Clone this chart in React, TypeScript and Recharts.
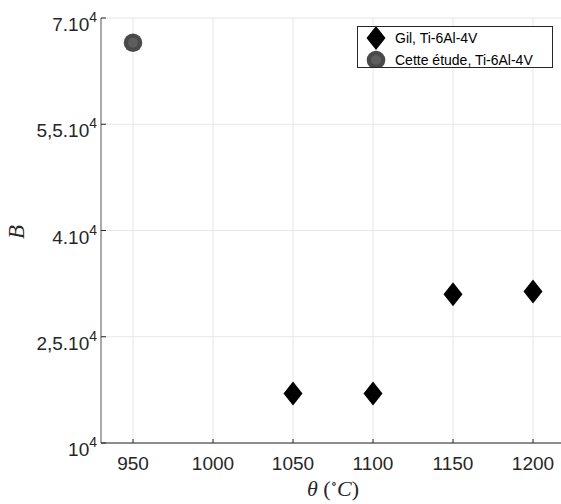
import React from "react";
import { ScatterChart, Scatter, XAxis, YAxis, CartesianGrid } from "recharts";

const xTicks = [950, 1000, 1050, 1100, 1150, 1200];
const yTicks = [10000, 25000, 40000, 55000, 70000];
const yTickLabels = ["10", "2,5.10", "4.10", "5,5.10", "7.10"];

const gilTheta = [1050, 1100, 1150, 1200];
const gilB = [17000, 17000, 31000, 31400];
const etudeTheta = [950];
const etudeB = [66500];

const gilData = gilTheta.map((x, i) => ({ x, y: gilB[i] }));
const etudeData = etudeTheta.map((x, i) => ({ x, y: etudeB[i] }));

const AXIS = "#262626";
const FONT = "'Liberation Sans', Arial, Helvetica, sans-serif";
const SERIF = "'Liberation Serif', 'DejaVu Serif', serif";

const Diamond = ({ cx, cy }: { cx?: number; cy?: number }) => {
  if (cx == null || cy == null) return null;
  return <path d={`M${cx},${cy - 12} L${cx + 9.5},${cy} L${cx},${cy + 12} L${cx - 9.5},${cy} Z`} fill="#000" />;
};

const Disc = ({ cx, cy }: { cx?: number; cy?: number }) => {
  if (cx == null || cy == null) return null;
  return (
    <g>
      <circle cx={cx} cy={cy} r={9.3} fill="#4a4a4a" />
      <circle cx={cx} cy={cy} r={5} fill="#5e5e5e" />
    </g>
  );
};

const XTick = (props: any) => {
  const { x, y, payload } = props;
  return (
    <g>
      <line x1={x} x2={x} y1={y} y2={y - 4} stroke={AXIS} />
      <text x={x} y={y + 27} textAnchor="middle" fontSize={19} fill={AXIS} fontFamily={FONT}>
        {payload.value}
      </text>
    </g>
  );
};

const TopTick = (props: any) => {
  const { x, y } = props;
  return <line x1={x} x2={x} y1={y} y2={y + 4} stroke={AXIS} />;
};

const YTick = (props: any) => {
  const { x, y, payload, index } = props;
  return (
    <g>
      <line x1={x} x2={x + 5} y1={y} y2={y} stroke={AXIS} />
      <text x={x - 4} y={y + 13} textAnchor="end" fontSize={19} fill={AXIS} fontFamily={FONT}>
        {yTickLabels[index] ?? payload.value}
        <tspan fontSize={14} dy={-9}>4</tspan>
      </text>
    </g>
  );
};

export default function App() {
  return (
    <div style={{ position: "absolute", left: 0, top: 0, width: 561, height: 504, overflow: "hidden", background: "#fff" }}>
      <ScatterChart width={566} height={504} margin={{ top: 18, right: 1, left: 0, bottom: 0 }}>
        <CartesianGrid stroke="#e6e6e6" horizontalValues={yTicks} verticalValues={xTicks} />
        <XAxis
          type="number"
          dataKey="x"
          domain={[930, 1220]}
          ticks={xTicks}
          allowDataOverflow
          height={61}
          tickSize={0}
          tickMargin={0}
          tickLine={false}
          axisLine={{ stroke: AXIS }}
          tick={<XTick />}
        />
        <XAxis
          xAxisId="top"
          orientation="top"
          type="number"
          dataKey="x"
          domain={[930, 1220]}
          ticks={xTicks}
          allowDataOverflow
          height={0}
          tickSize={0}
          tickMargin={0}
          tickLine={false}
          axisLine={{ stroke: "#000" }}
          tick={<TopTick />}
        />
        <YAxis
          type="number"
          dataKey="y"
          domain={[10000, 70000]}
          ticks={yTicks}
          allowDataOverflow
          width={101}
          tickSize={0}
          tickMargin={0}
          tickLine={false}
          axisLine={{ stroke: "#555" }}
          tick={<YTick />}
        />
        <Scatter name="Gil, Ti-6Al-4V" data={gilData} shape={<Diamond />} isAnimationActive={false} />
        <Scatter name="Cette étude, Ti-6Al-4V" data={etudeData} shape={<Disc />} isAnimationActive={false} />
      </ScatterChart>
      <div
        style={{
          position: "absolute",
          left: 357,
          top: 26,
          width: 196,
          height: 42,
          border: `1px solid ${AXIS}`,
          background: "#fff",
          boxSizing: "border-box",
        }}
      >
        <svg width={194} height={40} style={{ display: "block" }}>
          <Diamond cx={18} cy={11} />
          <text x={37} y={16} fontSize={14} fontFamily={FONT} fill="#000">Gil, Ti-6Al-4V</text>
          <Disc cx={18} cy={33} />
          <text x={37} y={38} fontSize={14} fontFamily={FONT} fill="#000">Cette étude, Ti-6Al-4V</text>
        </svg>
      </div>
      <div
        style={{
          position: "absolute",
          left: 0,
          top: 474,
          width: 666,
          textAlign: "center",
          fontFamily: SERIF,
          fontSize: 22,
          color: AXIS,
          lineHeight: "30px",
        }}
      >
        <i>θ</i> (<span style={{ fontSize: 13, position: "relative", top: -8 }}>∘</span><i>C</i>)
      </div>
      <div
        style={{
          position: "absolute",
          left: 10,
          top: 220,
          transform: "rotate(-90deg)",
          fontFamily: SERIF,
          fontStyle: "italic",
          fontSize: 23,
          color: AXIS,
          lineHeight: "24px",
        }}
      >
        B
      </div>
    </div>
  );
}
